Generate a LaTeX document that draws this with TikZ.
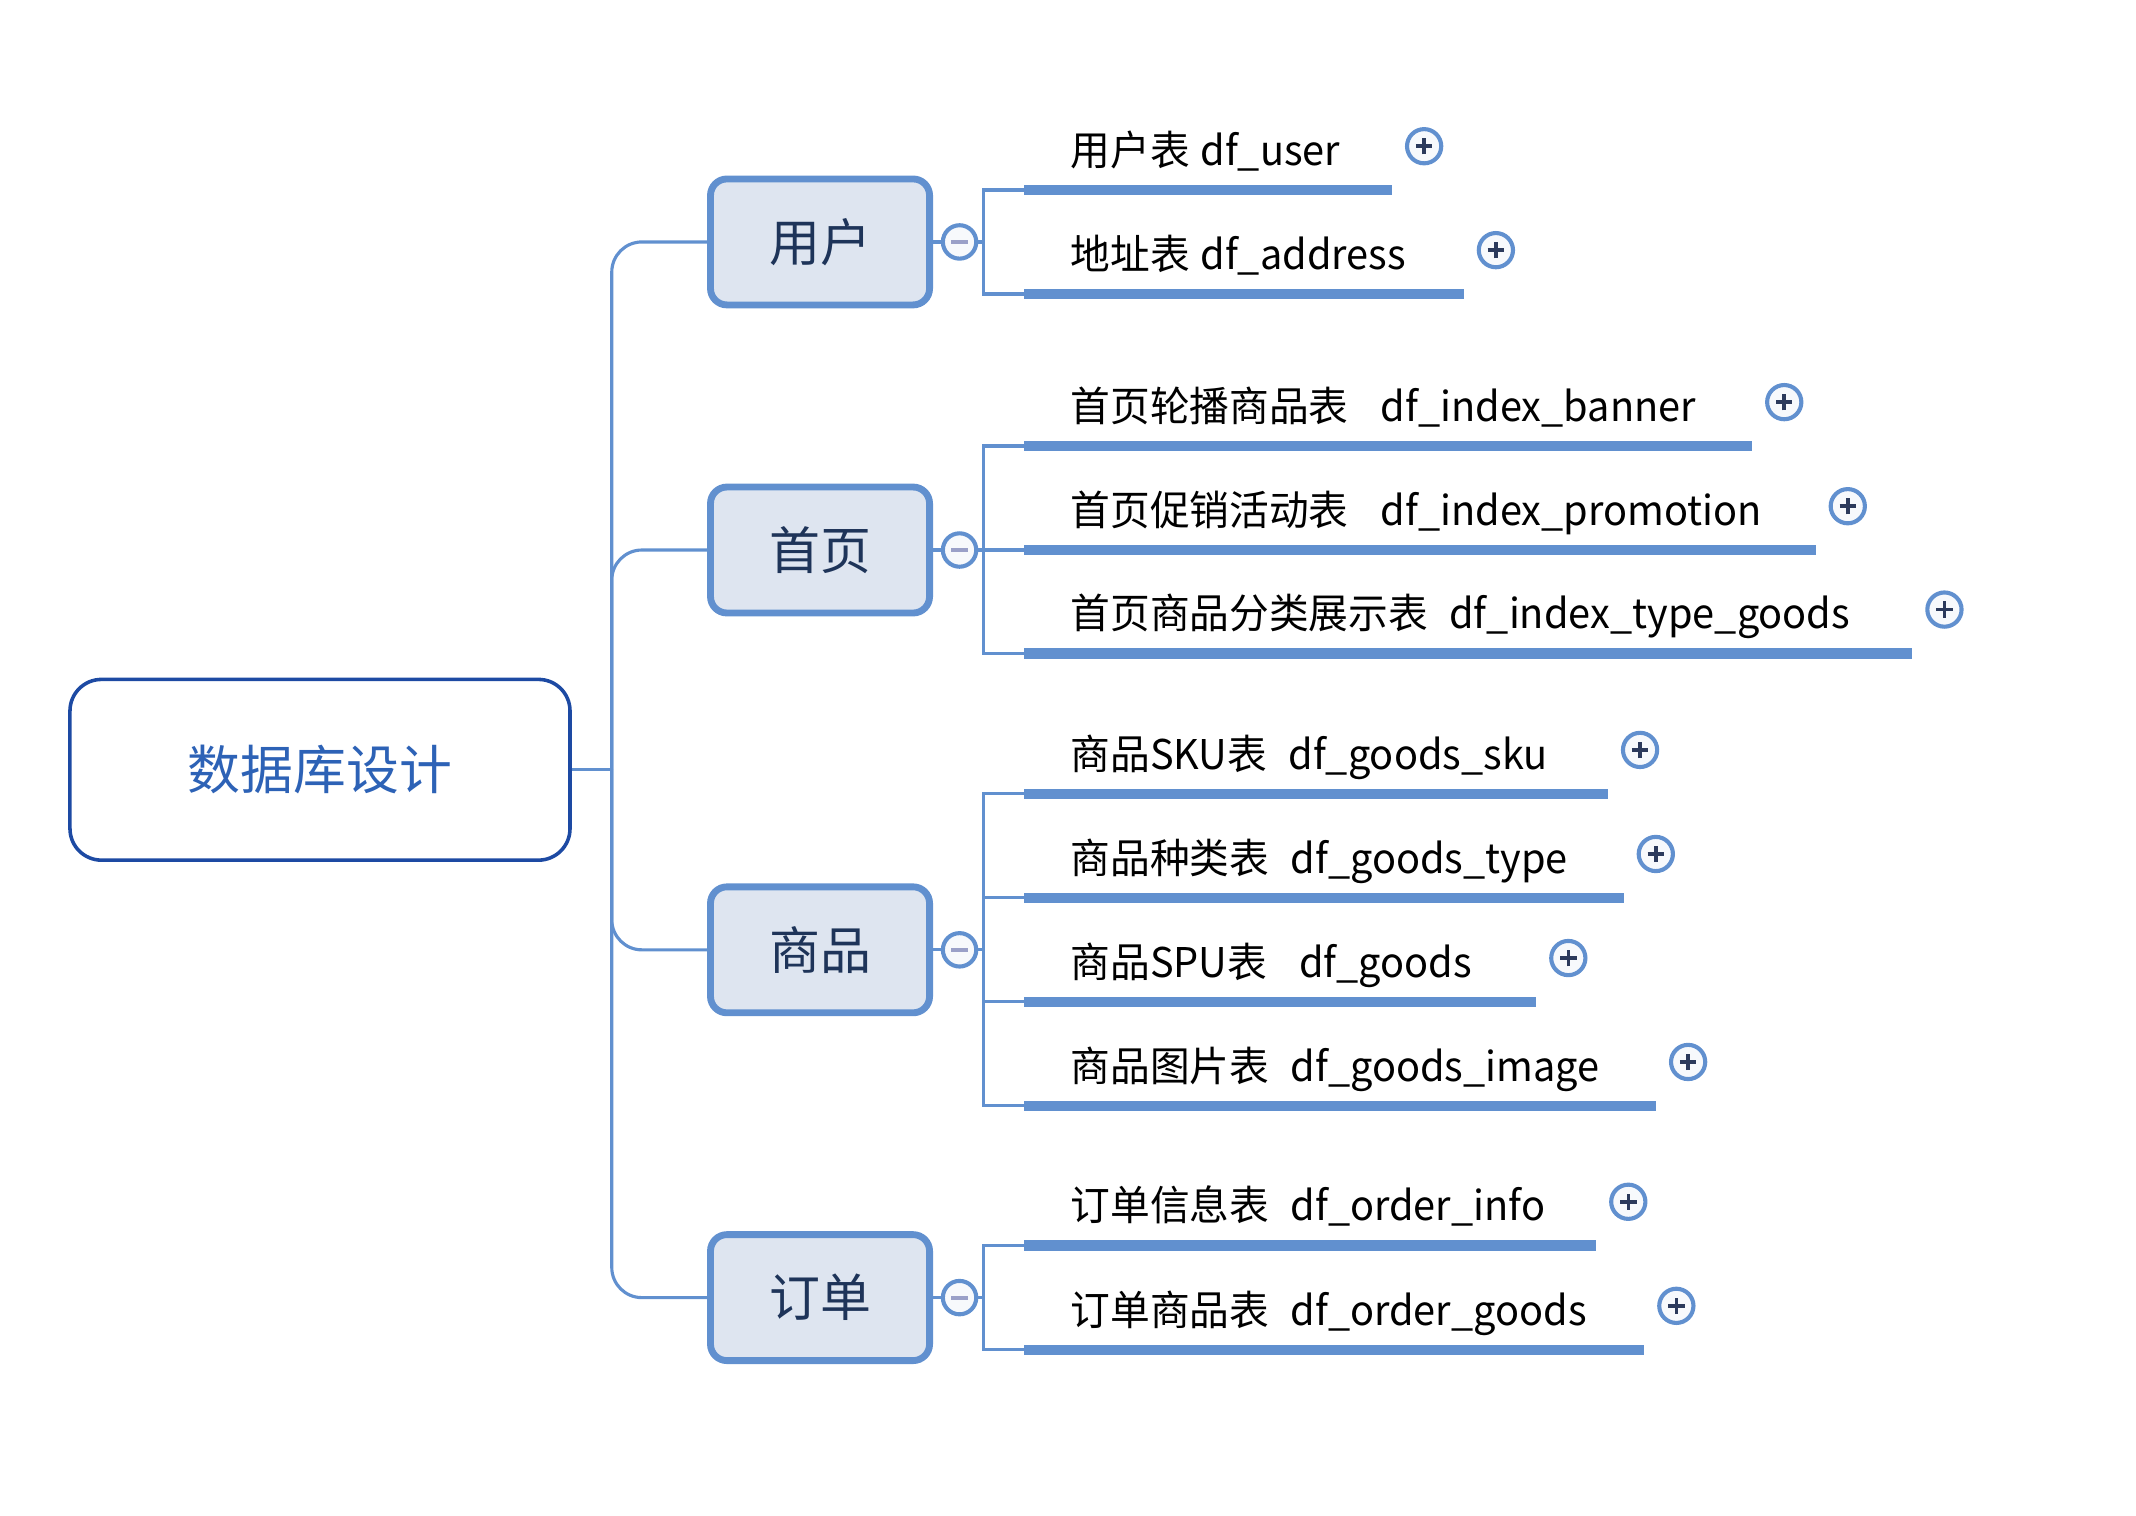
\documentclass[tikz,border=0pt]{standalone}
\usepackage{fontspec}
\setmainfont{Noto Sans CJK SC}[WordSpace=1.2]
\usetikzlibrary{calc}
\definecolor{linkblue}{HTML}{6190CF}
\definecolor{boxfill}{HTML}{DEE5F0}
\definecolor{navy}{HTML}{1E3459}
\definecolor{rootblue}{HTML}{1D4AA3}
\definecolor{roottext}{HTML}{2D62B6}
\definecolor{minusgrey}{HTML}{9AA0C8}
\definecolor{knobfill}{HTML}{F7F9FC}
\definecolor{plusdark}{HTML}{2C3A5C}

\begin{document}
\begin{tikzpicture}[x=0.5pt,y=-0.5pt,
    root/.style={draw=rootblue,line width=1.3pt,rounded corners=11.5pt,minimum width=182.6pt,minimum height=66pt,text=roottext,font=\fontsize{19.3}{23}\selectfont},
    topic/.style={draw=linkblue,fill=boxfill,line width=2.5pt,rounded corners=6pt,minimum width=80pt,minimum height=46pt,text=navy,font=\fontsize{18.6}{22}\selectfont},
    leaf/.style={anchor=base west,inner sep=0pt,font=\fontsize{14.95}{18}\selectfont\addfontfeature{FakeStretch=0.97}},
    link/.style={draw=linkblue,line width=1.15pt},
    bar/.style={draw=linkblue,line width=3.75pt},
    knob/.style={circle,draw=linkblue,fill=knobfill,line width=1.5pt,inner sep=0pt},
    minus/.style={knob,minimum size=12.2pt,path picture={\draw[minusgrey,line width=1.4pt] ([xshift=-3pt]path picture bounding box.center) -- ([xshift=3pt]path picture bounding box.center);}},
    plus/.style={knob,minimum size=12.5pt,path picture={\draw[plusdark,line width=1.3pt] ([xshift=-3pt]path picture bounding box.center) -- ([xshift=3pt]path picture bounding box.center) ([yshift=-3pt]path picture bounding box.center) -- ([yshift=3pt]path picture bounding box.center);}}]
    \useasboundingbox (0,0) rectangle (1560,1107.2);

    % root and topics
    \node[root] (db) at (233.7,562.2) {数据库设计};
    \coordinate (hub) at (446.8,562.2);
    \draw[link] (db.east) -- (hub);

    \node[topic] (user) at (598.9,176.7) {用户};
    \node[topic] (home) at (598.9,401.7) {首页};
    \node[topic] (goods) at (598.9,693.7) {商品};
    \node[topic] (order) at (598.9,947.7) {订单};
    \draw[link,rounded corners=11pt] (hub) |- (user.west);
    \draw[link,rounded corners=11pt] (hub) |- (home.west);
    \draw[link,rounded corners=11pt] (hub) |- (goods.west);
    \draw[link,rounded corners=11pt] (hub) |- (order.west);

    % 用户
    \node[minus] (userm) at (700.8,176.7) {};
    \draw[link] (user.east) -- (userm.west);
    \coordinate (ub) at (718,176.7);
    \coordinate (u1) at (748,138.8);
    \coordinate (u2) at (748,214.7);
    \draw[link] (userm) -- (ub);
    \draw[link] (u1) -| (ub) |- (u2);
    \draw[bar] (u1) -- ++(268.6,0) coordinate (u1e);
    \draw[bar] (u2) -- ++(321,0) coordinate (u2e);
    \node[leaf] (u1t) at ($(u1)+(33.5,-18)$) {用户表 df\_user};
    \node[leaf] (u2t) at ($(u2)+(33.5,-18)$) {地址表 df\_address};
    \node[plus] (u1p) at ($(u1e)+(23.5,-32)$) {};
    \node[plus] (u2p) at ($(u2e)+(23.5,-32)$) {};

    % 首页
    \node[minus] (homem) at (700.8,401.7) {};
    \draw[link] (home.east) -- (homem.west);
    \coordinate (hb) at (718,401.7);
    \coordinate (h1) at (748,325.7);
    \coordinate (h2) at (748,401.7);
    \coordinate (h3) at (748,477.2);
    \draw[link] (homem) -- (h2);
    \draw[link] (h1) -| (hb) |- (h3);
    \draw[bar] (h1) -- ++(531.6,0) coordinate (h1e);
    \draw[bar] (h2) -- ++(578,0) coordinate (h2e);
    \draw[bar] (h3) -- ++(648.6,0) coordinate (h3e);
    \node[leaf] (h1t) at ($(h1)+(33.5,-18)$) {首页轮播商品表\ \ \ df\_index\_banner};
    \node[leaf] (h2t) at ($(h2)+(33.5,-18)$) {首页促销活动表\ \ \ df\_index\_promotion};
    \node[leaf] (h3t) at ($(h3)+(33.5,-18)$) {首页商品分类展示表\ \ df\_index\_type\_goods};
    \node[plus] (h1p) at ($(h1e)+(23.5,-32)$) {};
    \node[plus] (h2p) at ($(h2e)+(23.5,-32)$) {};
    \node[plus] (h3p) at ($(h3e)+(23.5,-32)$) {};

    % 商品
    \node[minus] (goodsm) at (700.8,693.7) {};
    \draw[link] (goods.east) -- (goodsm.west);
    \coordinate (gb) at (718,693.7);
    \coordinate (g1) at (748,579.7);
    \coordinate (g2) at (748,655.7);
    \coordinate (g3) at (748,731.7);
    \coordinate (g4) at (748,807.6);
    \draw[link] (goodsm) -- (gb);
    \draw[link] (g1) -| (gb) |- (g4);
    \draw[link] (gb) |- (g2);
    \draw[link] (gb) |- (g3);
    \draw[bar] (g1) -- ++(426.3,0) coordinate (g1e);
    \draw[bar] (g2) -- ++(437.8,0) coordinate (g2e);
    \draw[bar] (g3) -- ++(373.9,0) coordinate (g3e);
    \draw[bar] (g4) -- ++(461.4,0) coordinate (g4e);
    \node[leaf] (g1t) at ($(g1)+(33.5,-18)$) {商品SKU表\ \ df\_goods\_sku};
    \node[leaf] (g2t) at ($(g2)+(33.5,-18)$) {商品种类表\ \ df\_goods\_type};
    \node[leaf] (g3t) at ($(g3)+(33.5,-18)$) {商品SPU表\ \ \ df\_goods};
    \node[leaf] (g4t) at ($(g4)+(33.5,-18)$) {商品图片表\ \ df\_goods\_image};
    \node[plus] (g1p) at ($(g1e)+(23.5,-32)$) {};
    \node[plus] (g2p) at ($(g2e)+(23.5,-32)$) {};
    \node[plus] (g3p) at ($(g3e)+(23.5,-32)$) {};
    \node[plus] (g4p) at ($(g4e)+(23.5,-32)$) {};

    % 订单
    \node[minus] (orderm) at (700.8,947.7) {};
    \draw[link] (order.east) -- (orderm.west);
    \coordinate (ob) at (718,947.7);
    \coordinate (o1) at (748,909.7);
    \coordinate (o2) at (748,985.7);
    \draw[link] (orderm) -- (ob);
    \draw[link] (o1) -| (ob) |- (o2);
    \draw[bar] (o1) -- ++(417.7,0) coordinate (o1e);
    \draw[bar] (o2) -- ++(452.8,0) coordinate (o2e);
    \node[leaf] (o1t) at ($(o1)+(33.5,-18)$) {订单信息表\ \ df\_order\_info};
    \node[leaf] (o2t) at ($(o2)+(33.5,-18)$) {订单商品表\ \ df\_order\_goods};
    \node[plus] (o1p) at ($(o1e)+(23.5,-32)$) {};
    \node[plus] (o2p) at ($(o2e)+(23.5,-32)$) {};
\end{tikzpicture}
\end{document}
